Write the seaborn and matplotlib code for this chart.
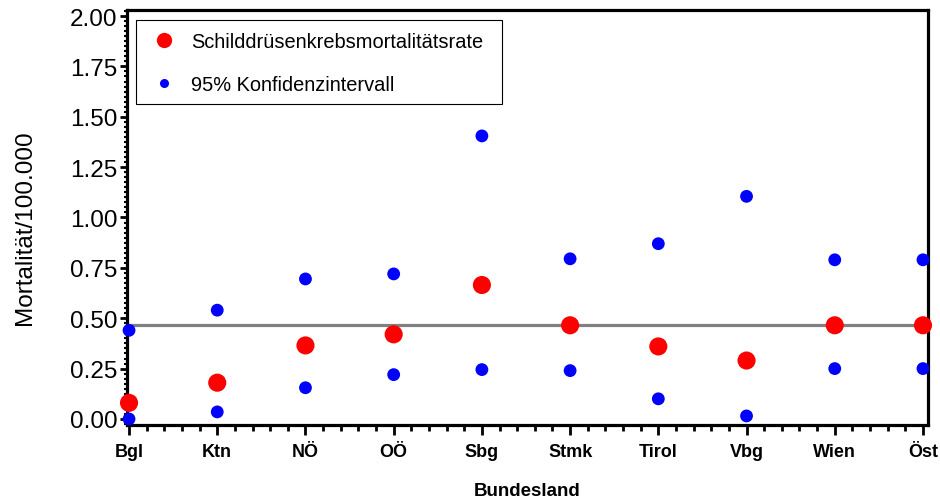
import matplotlib
matplotlib.use("Agg")
import matplotlib.pyplot as plt
from matplotlib.lines import Line2D
from matplotlib.patches import Rectangle
from matplotlib.ticker import AutoMinorLocator
import seaborn as sns
import pandas as pd

regions = ["Bgl", "Ktn", "NÖ", "OÖ", "Sbg", "Stmk", "Tirol", "Vbg", "Wien", "Öst"]
rate = [0.08, 0.18, 0.365, 0.42, 0.665, 0.465, 0.36, 0.29, 0.465, 0.465]
ci_low = [0.00, 0.035, 0.155, 0.22, 0.245, 0.24, 0.10, 0.015, 0.25, 0.25]
ci_high = [0.44, 0.54, 0.695, 0.72, 1.405, 0.795, 0.87, 1.105, 0.79, 0.79]
reference = 0.465
yticks = [0.00, 0.25, 0.50, 0.75, 1.00, 1.25, 1.50, 1.75, 2.00]

sns.set_style("ticks")
plt.rcParams["font.family"] = ["Liberation Sans", "DejaVu Sans"]
plt.rcParams["text.color"] = "black"
plt.rcParams["axes.labelcolor"] = "black"
plt.rcParams["xtick.color"] = "black"
plt.rcParams["ytick.color"] = "black"

df_rate = pd.DataFrame({"Bundesland": regions, "value": rate})
df_ci = pd.DataFrame({"Bundesland": regions * 2, "value": ci_low + ci_high})

fig = plt.figure(figsize=(9.4, 5.02), dpi=100)
ax = fig.add_axes([127 / 940, 1 - 426 / 502, 801 / 940, 415 / 502])

ax.axhline(reference, color="#808080", lw=2.3, zorder=1)

sns.scatterplot(data=df_ci, x="Bundesland", y="value", color="#0000ff", s=85,
                edgecolor="none", ax=ax, clip_on=False, zorder=5, legend=False)
sns.scatterplot(data=df_rate, x="Bundesland", y="value", color="#ff0000", s=170,
                edgecolor="none", ax=ax, clip_on=False, zorder=6, legend=False)

ax.set_xlim(-0.023, 9.057)
ax.set_ylim(-0.03, 2.03)
ax.set_yticks(yticks)
ax.set_yticklabels([f"{t:.2f}" for t in yticks], fontsize=17.5, color="black")
ax.set_xticks(range(len(regions)))
ax.set_xticklabels(regions, fontsize=13, fontweight="bold", color="black")
ax.xaxis.set_minor_locator(AutoMinorLocator(5))
ax.yaxis.set_minor_locator(AutoMinorLocator(10))

ax.tick_params(axis="both", which="both", direction="out", colors="black")
ax.tick_params(axis="x", which="major", length=7, width=2, pad=6)
ax.tick_params(axis="y", which="major", length=5, width=2, pad=2)
ax.tick_params(axis="x", which="minor", length=4, width=2)
ax.tick_params(axis="y", which="minor", length=2.5, width=1.5)

for sp in ax.spines.values():
    sp.set_visible(True)
    sp.set_linewidth(2.3)
    sp.set_color("black")

ax.set_xlabel("Bundesland", fontsize=13.5, fontweight="bold", labelpad=16, color="black")
ax.set_ylabel("Mortalität/100.000", fontsize=17.5, color="black")
ax.yaxis.set_label_coords(-0.1136, 0.478)

handles = [
    Line2D([], [], marker="o", linestyle="none", color="#ff0000", markersize=11,
           markeredgewidth=0, label="Schilddrüsenkrebsmortalitätsrate"),
    Line2D([], [], marker="o", linestyle="none", color="#0000ff", markersize=6.5,
           markeredgewidth=0, label="95% Konfidenzintervall"),
]
leg = ax.legend(handles=handles, loc="upper left", bbox_to_anchor=(0.0112, 0.976),
                borderaxespad=0, fontsize=14.4, frameon=False,
                labelspacing=1.2, handletextpad=0.55,
                borderpad=0.6, handlelength=1.6)
for t in leg.get_texts():
    t.set_color("black")
ax.add_patch(Rectangle(((136 - 127) / 801, (426 - 105) / 415), 366 / 801, 84 / 415,
                       transform=ax.transAxes, fill=False, edgecolor="black",
                       linewidth=0.8, zorder=7))

fig.savefig("out.png", dpi=100)
